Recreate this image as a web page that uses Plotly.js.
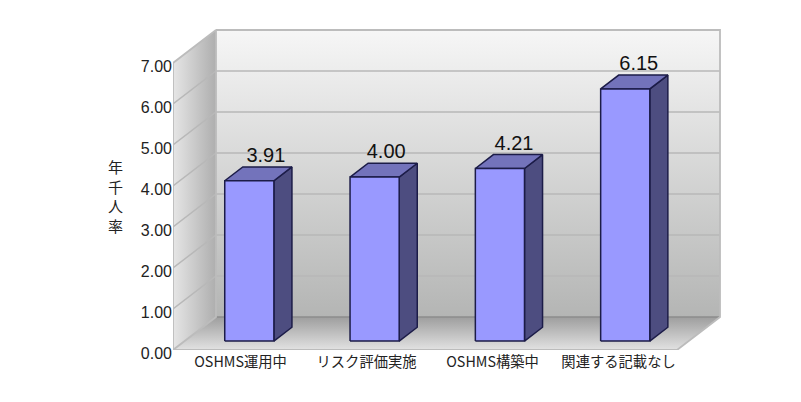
<!DOCTYPE html>
<html><head><meta charset="utf-8">
<script src="https://cdn.plot.ly/plotly-3.0.1.min.js"></script>
<style>html,body{margin:0;padding:0;background:#fff}</style></head>
<body><div id="chart" style="width:801px;height:402px"></div>
<script>
const categories = ["OSHMS運用中","リスク評価実施","OSHMS構築中","関連する記載なし"];
const rates = [3.91,4.00,4.21,6.15];
const yTicks = [0,1,2,3,4,5,6,7];
const yTickLabels = ["0.00","1.00","2.00","3.00","4.00","5.00","6.00","7.00"];
const yTitle = "年<br>千<br>人<br>率";

// oblique projection expressed in axis units
const W=801,H=402,L=173,R=70,T=20,B=52;
const unitX=126,unitY=41;
const xMax=(W-L-R)/unitX, yMax=(H-T-B)/unitY;
const depthX=43/unitX, depthY=33/unitY;
const P=(x,v,d)=>[x+d*depthX, v+d*depthY];
const nCat=categories.length, topV=yTicks[yTicks.length-1];
const barW=0.39, d0=0.27, d1=0.69;
const labelNudge=[-1.5,-6.5,-4,-4.5];

function poly(pts,opt){
  const q=pts.map(p=>P(p[0],p[1],p[2]));
  q.push(q[0]);
  return Object.assign({type:'scatter',mode:'lines',x:q.map(a=>a[0]),y:q.map(a=>a[1]),fill:'toself',cliponaxis:false,hoverinfo:'skip',showlegend:false},opt);
}
function line(pts,color,w){
  const q=pts.map(p=>P(p[0],p[1],p[2]));
  return {type:'scatter',mode:'lines',x:q.map(a=>a[0]),y:q.map(a=>a[1]),line:{color:color,width:w},cliponaxis:false,hoverinfo:'skip',showlegend:false};
}
const traces=[];
// walls
traces.push(poly([[0,0,1],[nCat,0,1],[nCat,topV,1],[0,topV,1]],{
  line:{color:'rgba(0,0,0,0)',width:0},
  fillgradient:{type:'vertical',colorscale:[[0,'#b4b5b4'],[1,'#f6f6f6']]}}));
traces.push(poly([[0,0,0],[0,0,1],[0,topV,1],[0,topV,0]],{
  line:{color:'rgba(0,0,0,0)',width:0},
  fillgradient:{type:'horizontal',colorscale:[[0,'#e6e6e6'],[1,'#aeaeae']]}}));
traces.push(poly([[0,0,0],[nCat,0,0],[nCat,0,1],[0,0,1]],{
  line:{color:'rgba(0,0,0,0)',width:0},
  fillgradient:{type:'vertical',colorscale:[[0,'#e2e2e2'],[1,'#9e9e9e']]}}));
// gridlines
yTicks.slice(1,-1).forEach(v=>traces.push(line([[0,v,0],[0,v,1],[nCat,v,1]],'#b8b8b8',1.5)));
traces.push(line([[0,0,1],[nCat,0,1]],'#8c8c8c',1.5));
// wall outlines
traces.push(line([[0,topV,1],[nCat,topV,1],[nCat,0,1],[nCat,0,0],[0,0,0],[0,topV,0],[0,topV,1],[0,0,1],[0,0,0]],'#bcbcbc',1.8));
// bars
const edge='#1c1c48';
const barC=i=>0.5135+i*0.9945;
rates.forEach((v,i)=>{
  const a=barC(i)-barW/2, b=barC(i)+barW/2;
  traces.push(poly([[b,0,d0],[b,0,d1],[b,v,d1],[b,v,d0]],{line:{color:edge,width:1.5},fillcolor:'#4d4d80'}));
  traces.push(poly([[a,v,d0],[b,v,d0],[b,v,d1],[a,v,d1]],{line:{color:edge,width:1.5},fillcolor:'#7373bb'}));
  const f=[[a,0],[b,0],[b,v],[a,v]].map(p=>[p[0]+d0*depthX,p[1]+d0*depthY,0]);
  traces.push(poly(f,{line:{color:edge,width:1.5},fillcolor:'#9999ff'}));
});
// value labels
const lab=rates.map((v,i)=>P(barC(i)+labelNudge[i]/unitX,v,d1));
traces.push({type:'scatter',mode:'text',x:lab.map(a=>a[0]),y:lab.map(a=>a[1]),
  text:rates.map(v=>v.toFixed(2)),textposition:'top center',
  textfont:{family:'Liberation Sans, Arial, sans-serif',size:20,color:'#111'},
  cliponaxis:false,hoverinfo:'skip',showlegend:false});

const layout={
  width:W,height:H,margin:{l:L,r:R,t:T,b:B,pad:0},
  paper_bgcolor:'#fff',plot_bgcolor:'rgba(0,0,0,0)',showlegend:false,hovermode:false,
  xaxis:{range:[0,xMax],tickmode:'array',tickvals:categories.map((c,i)=>i+0.536),ticktext:categories,
    showgrid:false,zeroline:false,showline:false,ticks:'',ticklabelstandoff:2,
    tickangle:0,tickfont:{family:'Noto Sans CJK JP',size:14.3,color:'#222'}},
  yaxis:{range:[0,yMax],tickmode:'array',tickvals:yTicks,ticktext:yTickLabels,
    showgrid:false,zeroline:false,showline:false,ticks:'',ticklabelshift:3,
    tickfont:{family:'Liberation Sans, Arial, sans-serif',size:16,color:'#222'}},
  annotations:[{text:yTitle,xref:'paper',yref:'paper',x:(115-L)/(W-L-R),y:(H-B-196)/(H-T-B),
    xanchor:'center',yanchor:'middle',showarrow:false,align:'center',
    font:{family:'Noto Sans CJK JP',size:15,color:'#222'}}]
};
Plotly.newPlot('chart',traces,layout,{displayModeBar:false,staticPlot:true});
</script></body></html>
